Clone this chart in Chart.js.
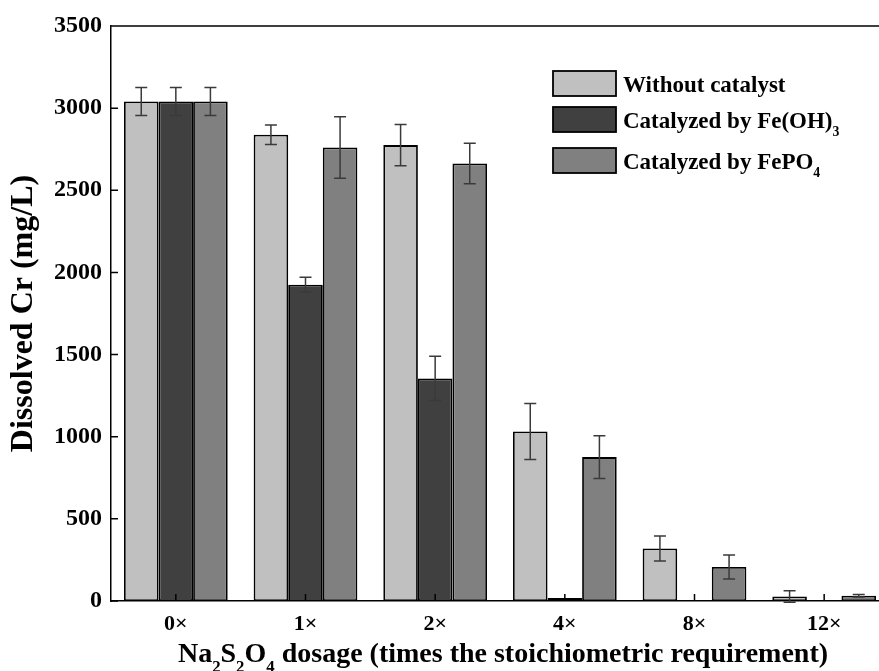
<!DOCTYPE html>
<html>
<head>
<meta charset="utf-8">
<script src="https://cdn.jsdelivr.net/npm/chart.js"></script>
<style>
  html, body { margin: 0; padding: 0; background: #fff; overflow: hidden; }
  #wrap { width: 892px; height: 671px; }
</style>
</head>
<body>
<div id="wrap"><canvas id="myChart" width="892" height="671"></canvas></div>
<script>
// Data
const categories = ['0×', '1×', '2×', '4×', '8×', '12×'];
const yTicks = [0, 500, 1000, 1500, 2000, 2500, 3000, 3500];

const withoutCatalyst = [3040, 2838, 2775, 1032, 320, 28];
const withoutErr = [85, 60, 125, 170, 76, 35];

const feOH3 = [3040, 1925, 1355, 18, 4, 2];
const feOH3Err = [85, 45, 135, 0, 0, 0];

const fePO4 = [3040, 2761, 2663, 876, 207, 32];
const fePO4Err = [85, 187, 123, 130, 73, 8];

const seriesLabels = [
  [['Without catalyst', '']],
  [['Catalyzed by Fe(OH)', ''], ['3', 'sub']],
  [['Catalyzed by FePO', ''], ['4', 'sub']]
];
const fills = ['#c0c0c0', '#404040', '#808080'];
const errors = [withoutErr, feOH3Err, fePO4Err];

const FONT = '"Liberation Serif", "Times New Roman", serif';

// draw text pieces, subscripts shifted down and smaller
function drawRich(ctx, parts, x, y, size, align) {
  ctx.save();
  ctx.textBaseline = 'alphabetic';
  ctx.textAlign = 'left';
  let total = 0;
  const widths = parts.map(p => {
    ctx.font = 'bold ' + (p[1] === 'sub' ? size * 0.6 : size) + 'px ' + FONT;
    const w = ctx.measureText(p[0]).width;
    total += w;
    return w;
  });
  let cx = align === 'center' ? x - total / 2 : x;
  parts.forEach((p, i) => {
    ctx.font = 'bold ' + (p[1] === 'sub' ? size * 0.6 : size) + 'px ' + FONT;
    ctx.fillText(p[0], cx, p[1] === 'sub' ? y + size * 0.35 : y);
    cx += widths[i];
  });
  ctx.restore();
}

const decorations = {
  id: 'decorations',
  afterDatasetsDraw(chart) {
    const ctx = chart.ctx;
    const x = chart.scales.x, y = chart.scales.y;
    const area = chart.chartArea;

    // error bars
    ctx.save();
    ctx.strokeStyle = '#3a3a3a';
    ctx.lineWidth = 1.5;
    chart.data.datasets.forEach((ds, di) => {
      const meta = chart.getDatasetMeta(di);
      meta.data.forEach((bar, i) => {
        const e = errors[di][i];
        if (!e) return;
        const v = ds.data[i];
        const top = y.getPixelForValue(v + e);
        const bot = y.getPixelForValue(v - e);
        ctx.beginPath();
        ctx.moveTo(bar.x, top); ctx.lineTo(bar.x, bot);
        ctx.moveTo(bar.x - 6, top); ctx.lineTo(bar.x + 6, top);
        ctx.moveTo(bar.x - 6, bot); ctx.lineTo(bar.x + 6, bot);
        ctx.stroke();
      });
    });
    ctx.restore();

    // frame top line and inward ticks
    ctx.save();
    ctx.strokeStyle = '#000';
    ctx.lineWidth = 1.5;
    ctx.beginPath();
    ctx.moveTo(area.left, area.top); ctx.lineTo(area.right, area.top);
    yTicks.forEach(t => {
      const py = y.getPixelForValue(t);
      ctx.moveTo(area.left, py); ctx.lineTo(area.left + 7, py);
    });
    categories.forEach((c, i) => {
      const px = x.getPixelForValue(i);
      ctx.moveTo(px, area.bottom); ctx.lineTo(px, area.bottom - 7);
    });
    ctx.stroke();
    ctx.restore();

    // legend
    ctx.save();
    const lx = 553, ly = [71, 107, 148];
    seriesLabels.forEach((parts, i) => {
      ctx.fillStyle = fills[i];
      ctx.fillRect(lx, ly[i], 63, 25);
      ctx.strokeStyle = '#000';
      ctx.lineWidth = 1.8;
      ctx.strokeRect(lx, ly[i], 63, 25);
      ctx.fillStyle = '#000';
      drawRich(ctx, parts, lx + 70, ly[i] + 21, 23, 'left');
    });
    ctx.restore();

    // x axis title with subscripts
    ctx.save();
    ctx.fillStyle = '#000';
    drawRich(ctx, [['Na', ''], ['2', 'sub'], ['S', ''], ['2', 'sub'], ['O', ''], ['4', 'sub'],
      [' dosage (times the stoichiometric requirement)', '']], (area.left + area.right) / 2 + 3, 662, 28, 'center');
    ctx.restore();
  }
};

const ctx = document.getElementById('myChart').getContext('2d');
new Chart(ctx, {
  type: 'bar',
  data: {
    labels: categories,
    datasets: [
      { label: 'Without catalyst', data: withoutCatalyst, backgroundColor: fills[0] },
      { label: 'Catalyzed by Fe(OH)3', data: feOH3, backgroundColor: fills[1] },
      { label: 'Catalyzed by FePO4', data: fePO4, backgroundColor: fills[2] }
    ].map(d => Object.assign(d, { borderColor: '#000', borderWidth: 1.8, borderSkipped: false,
      categoryPercentage: 0.8, barPercentage: 1.0 }))
  },
  options: {
    responsive: false,
    animation: false,
    layout: { padding: { top: 26, right: 3, bottom: 0, left: 0 } },
    plugins: {
      legend: { display: false },
      tooltip: { enabled: false }
    },
    scales: {
      x: {
        afterFit(axis) { axis.height = 70; },
        grid: { display: false, drawTicks: false },
        border: { display: true, color: '#000', width: 1.5 },
        ticks: { color: '#000', padding: 10, font: { family: FONT, size: 22, weight: 'bold' } }
      },
      y: {
        min: 0,
        max: 3500,
        afterBuildTicks(axis) { axis.ticks = yTicks.map(v => ({ value: v })); },
        afterFit(axis) { axis.width = 111; },
        grid: { display: false, drawTicks: false },
        border: { display: true, color: '#000', width: 1.5 },
        ticks: { color: '#000', padding: 9, callback: v => String(v),
          font: { family: FONT, size: 24, weight: 'bold' } },
        title: { display: true, text: 'Dissolved Cr (mg/L)', color: '#000', padding: { top: 5, bottom: 0 },
          font: { family: FONT, size: 32, weight: 'bold' } }
      }
    }
  },
  plugins: [decorations]
});
</script>
</body>
</html>
